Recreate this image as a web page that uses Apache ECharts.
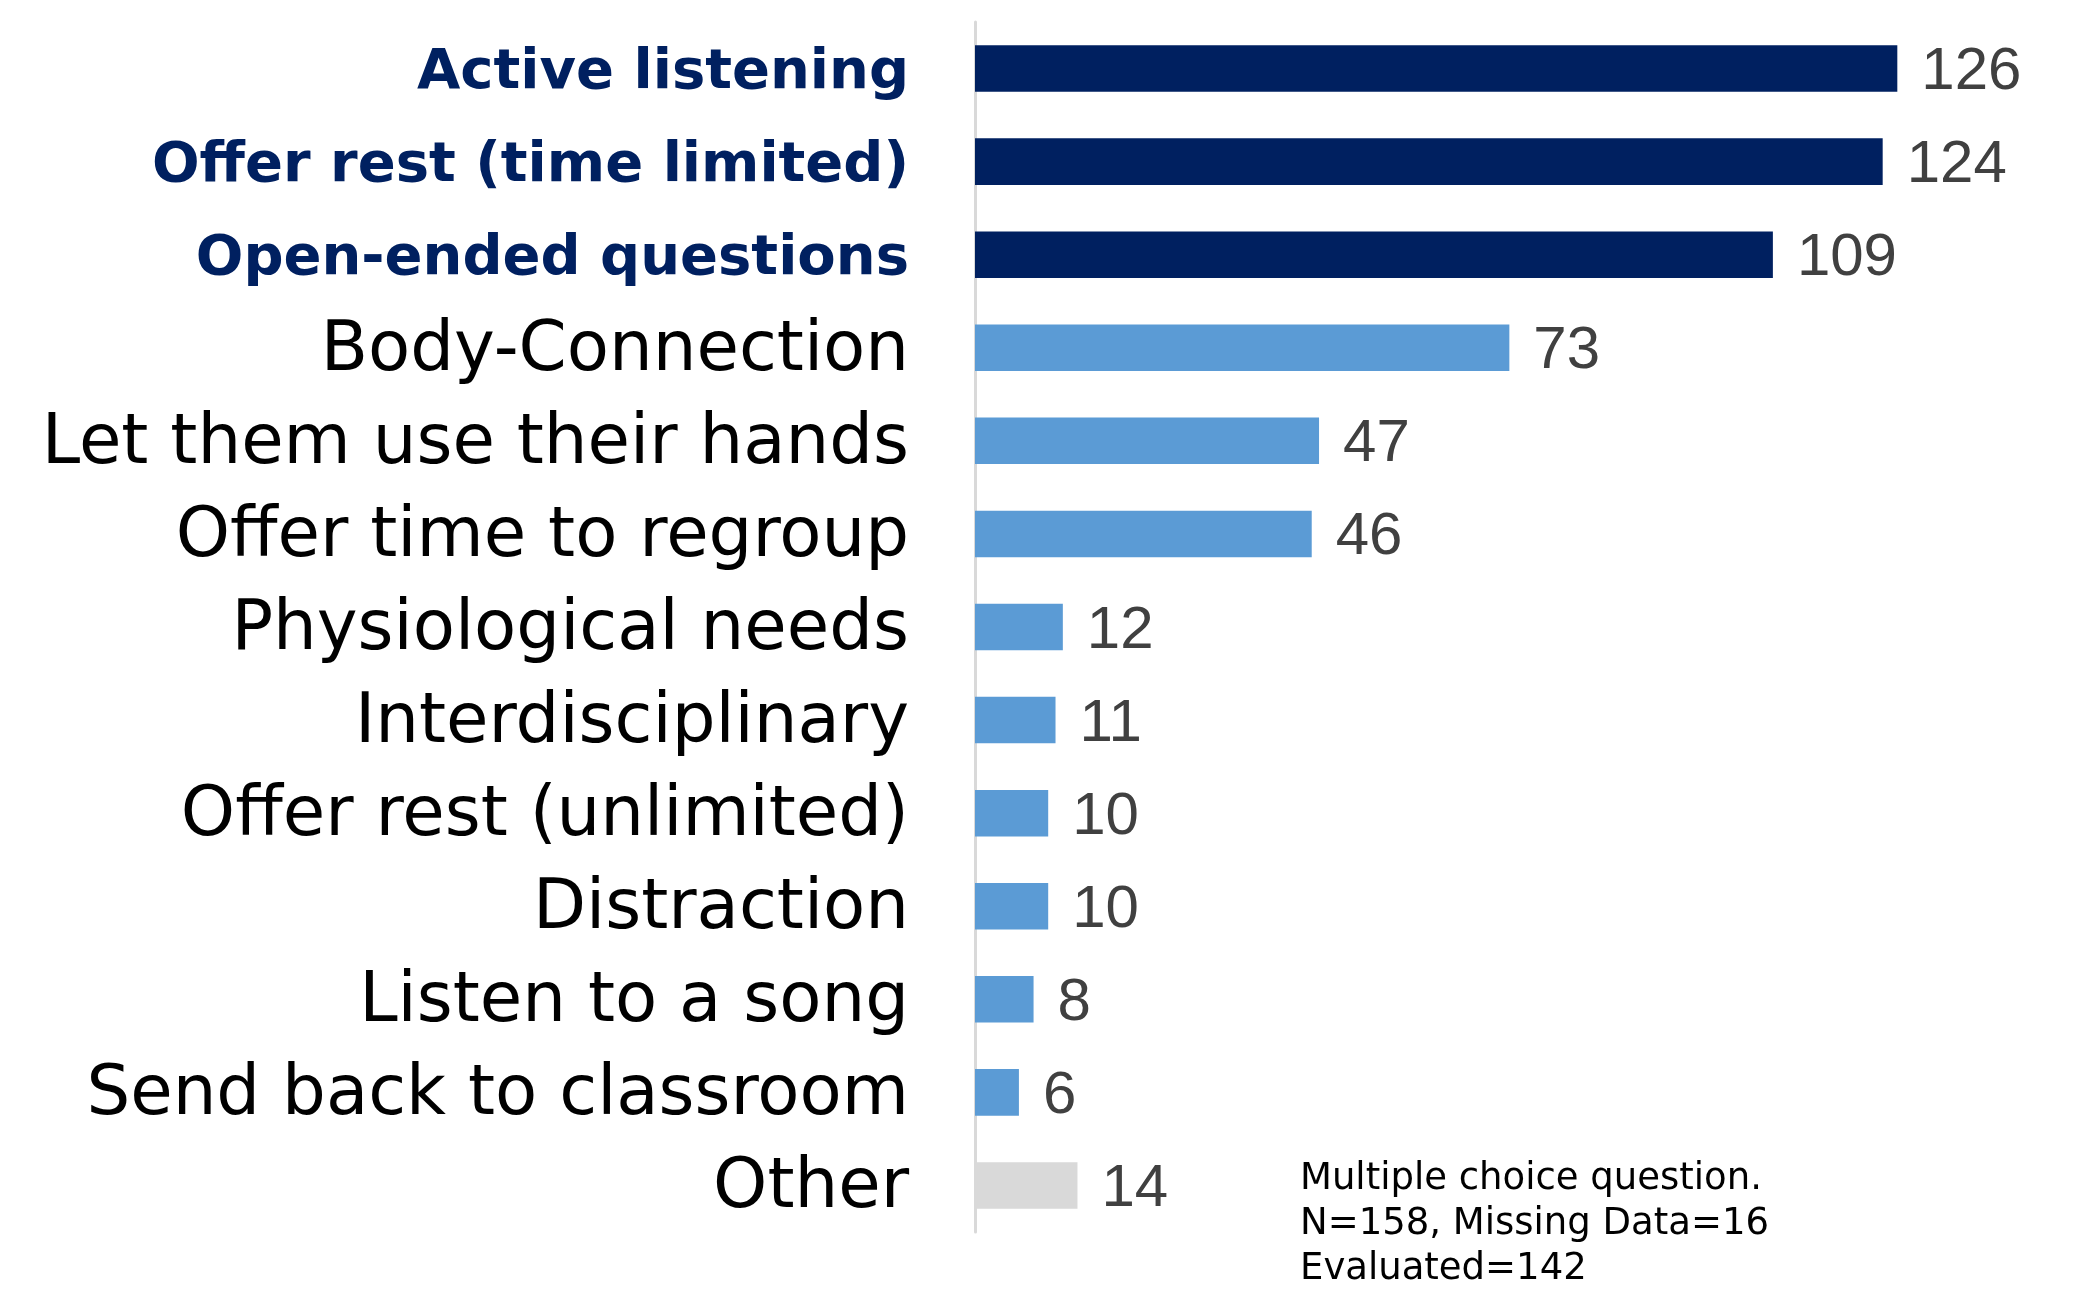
<!DOCTYPE html>
<html>
<head>
<meta charset="utf-8">
<script src="https://cdn.jsdelivr.net/npm/echarts@6/dist/echarts.min.js"></script>
<style>
  html, body { margin: 0; padding: 0; background: #fff; }
  #chart { width: 2073px; height: 1297px; }
</style>
</head>
<body>
<div id="chart"></div>
<script>
const categories = [
  'Active listening',
  'Offer rest (time limited)',
  'Open-ended questions',
  'Body-Connection',
  'Let them use their hands',
  'Offer time to regroup',
  'Physiological needs',
  'Interdisciplinary',
  'Offer rest (unlimited)',
  'Distraction',
  'Listen to a song',
  'Send back to classroom',
  'Other'
]
const counts = [126, 124, 109, 73, 47, 46, 12, 11, 10, 10, 8, 6, 14]
// first ones are the highlighted answers, last one is "Other"
const topCount = 3
const noteLines = ['Multiple choice question.', 'N=158, Missing Data=16', 'Evaluated=142']

const navy = '#002060'
const blue = '#5B9BD5'
const grey = '#D9D9D9'

function barColor(idx) {
  if (idx < topCount) return navy
  if (idx === categories.length - 1) return grey
  return blue
}

const chart = echarts.init(document.getElementById('chart'))
chart.setOption({
  animation: false,
  grid: {
    left: 975,
    right: 0,
    top: 22,
    bottom: 65,
    containLabel: false
  },
  xAxis: {
    type: 'value',
    min: 0,
    max: 150,
    show: false
  },
  yAxis: {
    type: 'category',
    inverse: true,
    data: categories,
    axisTick: { show: false },
    axisLine: {
      show: true,
      lineStyle: { color: grey, width: 3 }
    },
    axisLabel: {
      margin: 66,
      interval: 0,
      formatter: function(val, idx) {
        return idx < topCount ? '{b|' + val + '}' : '{n|' + val + '}'
      },
      rich: {
        b: {
          fontFamily: 'DejaVu Sans',
          fontWeight: 'bold',
          fontSize: 56,
          color: navy,
          padding: [10, 0, 0, 0]
        },
        n: {
          fontFamily: 'DejaVu Sans',
          fontSize: 69,
          color: '#000',
          padding: [8, 0, 0, 0]
        }
      }
    }
  },
  series: [
    {
      type: 'bar',
      data: counts,
      barWidth: '50%',
      itemStyle: {
        color: function(p) {
          return barColor(p.dataIndex)
        }
      },
      label: {
        show: true,
        position: 'right',
        distance: 24,
        offset: [0, 4],
        fontFamily: 'Liberation Sans',
        fontSize: 60,
        color: '#404040'
      }
    }
  ],
  graphic: noteLines.map(function(t, i) {
    return {
      type: 'text',
      left: 1300,
      top: 1161 + i * 45,
      style: {
        text: t,
        fontFamily: 'DejaVu Sans',
        fontSize: 37,
        fill: '#000'
      }
    }
  })
})
</script>
</body>
</html>
